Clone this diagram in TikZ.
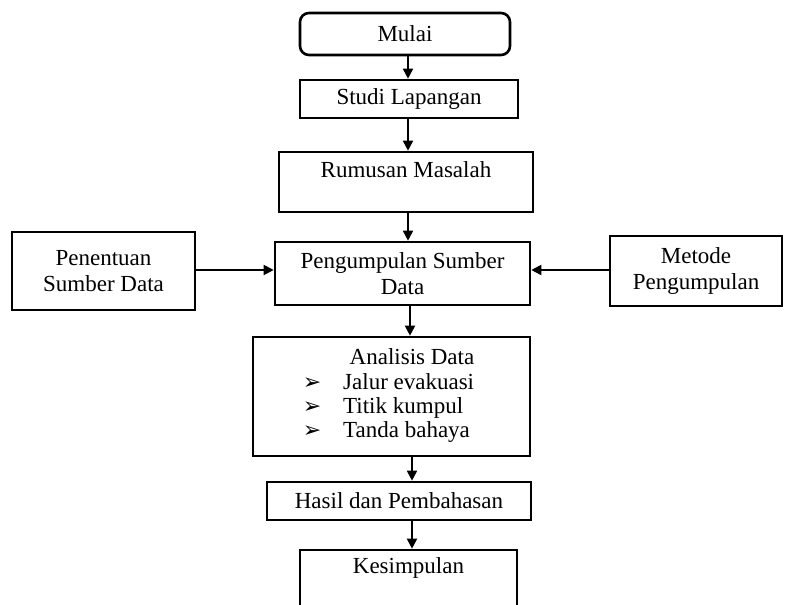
\documentclass[tikz,border=0pt]{standalone}
\usepackage{fontspec}
\setmainfont{Liberation Serif}
\newfontfamily\dejavu{DejaVu Sans}
\usetikzlibrary{arrows.meta}
\begin{document}
\begin{tikzpicture}[x=1pt,y=1pt,
  box/.style={draw, line width=2.6pt, inner sep=0pt, align=center,
    font=\fontsize{23}{26}\selectfont},
  txt/.style={inner sep=0pt, font=\fontsize{23}{26}\selectfont},
  bul/.style={inner sep=0pt, anchor=base, font=\dejavu\fontsize{22}{24}\selectfont},
  arr/.style={line width=1.8pt, -{Triangle[length=10pt,width=10pt]}}]
\useasboundingbox (0,0) rectangle (785,605);
\clip (0,0) rectangle (785,605);
\fill[white] (0,0) rectangle (785,605);
% boxes
\node[box, rounded corners=9pt, minimum width=210pt, minimum height=42pt] (mulai) at (405,571) {Mulai};
\node[box, minimum width=218pt, minimum height=38pt] (studi) at (409,506) {Studi Lapangan};
\node[box, minimum width=254pt, minimum height=60pt] (rumus) at (406,423) {};
\node[txt] (rumustxt) at (406,435) {Rumusan Masalah};
\node[box, minimum width=183pt, minimum height=78pt] (penentuan) at (103.5,334) {Penentuan\\Sumber Data};
\node[box, minimum width=255pt, minimum height=63pt] (kumpul) at (402.5,331.5) {Pengumpulan Sumber\\Data};
\node[box, minimum width=172pt, minimum height=70pt] (metode) at (696,334) {Metode\\Pengumpulan};
\node[box, minimum width=277pt, minimum height=119pt] (analisis) at (391.5,208.5) {};
\node[txt, anchor=base] (antitle) at (412,240) {Analisis Data};
\node[bul] (b1) at (312,215) {➢};
\node[bul] (b2) at (312,191) {➢};
\node[bul] (b3) at (312,167) {➢};
\node[txt, anchor=base west] (i1) at (343,215) {Jalur evakuasi};
\node[txt, anchor=base west] (i2) at (343,191) {Titik kumpul};
\node[txt, anchor=base west] (i3) at (343,167) {Tanda bahaya};
\node[box, minimum width=264pt, minimum height=38pt] (hasil) at (399,104) {Hasil dan Pembahasan};
\node[box, minimum width=217pt, minimum height=65pt] (simpul) at (408.5,22.5) {};
\node[txt] (simpultxt) at (408.5,37) {Kesimpulan};
% connector columns
\coordinate (c1) at (408,0);
\coordinate (c2) at (410,0);
\coordinate (c3) at (412,0);
\coordinate (row) at (0,335);
\draw[arr] (mulai.south -| c1) -- (studi.north -| c1);
\draw[arr] (studi.south -| c1) -- (rumus.north -| c1);
\draw[arr] (rumus.south -| c1) -- (kumpul.north -| c1);
\draw[arr] (penentuan.east |- row) -- (kumpul.west |- row);
\draw[arr] (metode.west |- row) -- (kumpul.east |- row);
\draw[arr] (kumpul.south -| c2) -- (analisis.north -| c2);
\draw[arr] (analisis.south -| c3) -- (hasil.north -| c3);
\draw[arr] (hasil.south -| c3) -- (simpul.north -| c3);
\end{tikzpicture}
\end{document}
